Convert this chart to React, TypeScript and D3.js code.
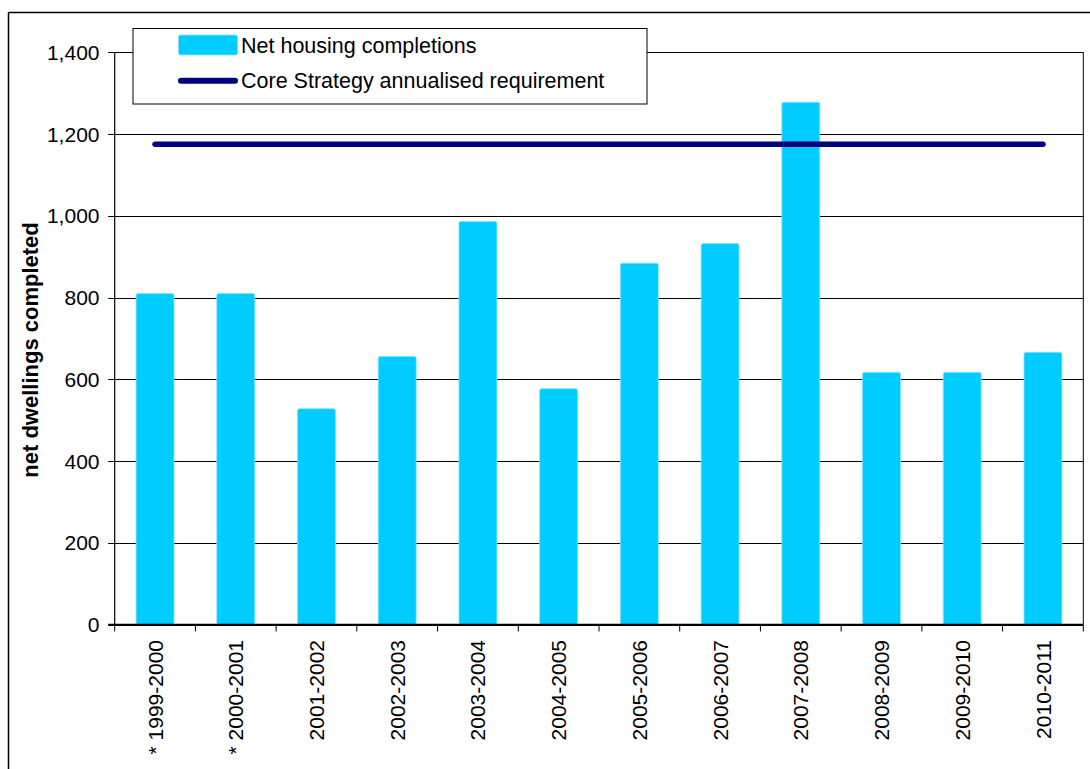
import React from "react";
import * as d3 from "d3";

const categories = [
  "1999-2000", "2000-2001", "2001-2002", "2002-2003", "2003-2004", "2004-2005",
  "2005-2006", "2006-2007", "2007-2008", "2008-2009", "2009-2010", "2010-2011",
];
const categoryLabels = [
  "* 1999-2000", "* 2000-2001", "2001-2002", "2002-2003", "2003-2004", "2004-2005",
  "2005-2006", "2006-2007", "2007-2008", "2008-2009", "2009-2010", "2010-2011",
];
const completions = [810, 810, 528, 656, 986, 577, 884, 932, 1278, 617, 617, 666];
const requirement = [1175, 1175, 1175, 1175, 1175, 1175, 1175, 1175, 1175, 1175, 1175, 1175];
const yTicks = [0, 200, 400, 600, 800, 1000, 1200, 1400];
const seriesNames = ["Net housing completions", "Core Strategy annualised requirement"];
const yTitle = "net dwellings completed";

const W = 1090;
const H = 769;
const FONT = "'Liberation Sans', Arial, sans-serif";

export default function App() {
  const left = 114.7;
  const right = 1083.3;
  const top = 52.3;
  const bottom = 624.5;

  const x = d3.scaleBand<string>().domain(categories).range([left, right]).paddingInner(0.53).paddingOuter(0.265);
  const y = d3.scaleLinear().domain([0, 1400]).range([bottom, top]);
  const fmt = d3.format(",");
  const step = x.step();

  const lineGen = d3
    .line<number>()
    .x((_, i) => (x(categories[i]) as number) + x.bandwidth() / 2)
    .y((d) => y(d));

  return (
    <svg
      width={W}
      height={H}
      style={{ position: "absolute", left: 0, top: 0, background: "#fff" }}
      fontFamily={FONT}
    >
      <rect x={0} y={0} width={W} height={H} fill="#fff" />
      {/* outer frame */}
      <line x1={8.5} y1={12.5} x2={W} y2={12.5} stroke="#000" strokeWidth={1.5} />
      <line x1={8.5} y1={12.5} x2={8.5} y2={H} stroke="#000" strokeWidth={1.5} />

      {/* gridlines */}
      {yTicks.map((t) => (
        <line key={t} x1={left - 6.5} x2={right} y1={Math.round(y(t)) + 0.5} y2={Math.round(y(t)) + 0.5} stroke="#000" strokeWidth={1} />
      ))}
      {/* plot right border */}
      <line x1={right} x2={right} y1={top} y2={bottom} stroke="#000" strokeWidth={1} />

      {/* y tick labels */}
      {yTicks.map((t) => (
        <text key={"l" + t} x={99.5} y={y(t)} dy="0.36em" textAnchor="end" fontSize={21} fill="#000">
          {fmt(t)}
        </text>
      ))}

      {/* bars */}
      {completions.map((v, i) => (
        <rect
          key={categories[i]}
          x={x(categories[i])}
          y={y(v)}
          width={x.bandwidth()}
          height={bottom - y(v)}
          rx={2}
          ry={2}
          fill="#00CCFF"
          stroke="#7fe5ff"
          strokeWidth={0.8}
        />
      ))}

      {/* axes */}
      <line x1={left} x2={left} y1={top} y2={bottom} stroke="#000" strokeWidth={1.2} />
      <line x1={left - 6.5} x2={right} y1={bottom} y2={bottom} stroke="#000" strokeWidth={1.5} />
      {d3.range(categories.length + 1).map((i) => {
        const xx = left + i * step;
        return <line key={"t" + i} x1={xx} x2={xx} y1={bottom} y2={bottom + 7} stroke="#000" strokeWidth={1} />;
      })}

      {/* requirement line */}
      <path d={lineGen(requirement) || ""} fill="none" stroke="#000080" strokeWidth={5.5} strokeLinecap="round" />

      {/* x labels */}
      {categoryLabels.map((c, i) => {
        const cx = (x(categories[i]) as number) + x.bandwidth() / 2;
        return (
          <text
            key={"x" + i}
            transform={`translate(${cx},${640}) rotate(-90)`}
            dy="0.36em"
            textAnchor="end"
            fontSize={21}
            fill="#000"
          >
            {c}
          </text>
        );
      })}

      {/* y title */}
      <text
        transform={`translate(30,${350}) rotate(-90)`}
        dy="0.36em"
        textAnchor="middle"
        fontSize={22}
        fontWeight="bold"
        fill="#000"
      >
        {yTitle}
      </text>

      {/* legend */}
      <rect x={133} y={28.5} width={514} height={75.5} fill="#fff" stroke="#000" strokeWidth={1} />
      <rect x={178.5} y={35} width={59} height={20} rx={2} fill="#00CCFF" stroke="#7fe5ff" strokeWidth={0.8} />
      <line x1={181} x2={235} y1={80.7} y2={80.7} stroke="#000080" strokeWidth={6} strokeLinecap="round" />
      <text x={241} y={45} dy="0.36em" fontSize={21.5} fill="#000">
        {seriesNames[0]}
      </text>
      <text x={241} y={80.7} dy="0.36em" fontSize={21.5} fill="#000">
        {seriesNames[1]}
      </text>
    </svg>
  );
}
